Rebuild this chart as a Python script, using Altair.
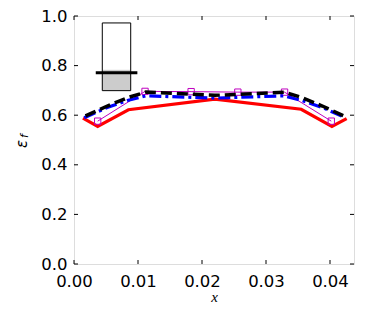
import altair as alt
import pandas as pd

# ---- data ----
red_x = [0.0014, 0.0037, 0.0085, 0.0220, 0.0355, 0.0403, 0.0426]
red_y = [0.588, 0.555, 0.622, 0.665, 0.624, 0.555, 0.586]

blue_x = [0.0016, 0.0052, 0.0085, 0.0112, 0.0220, 0.0328, 0.0355, 0.0388, 0.0424]
blue_y = [0.590, 0.631, 0.660, 0.678, 0.669, 0.678, 0.660, 0.631, 0.590]

black_x = [0.0018, 0.0052, 0.0085, 0.0112, 0.0220, 0.0328, 0.0355, 0.0388, 0.0422]
black_y = [0.597, 0.637, 0.672, 0.693, 0.680, 0.693, 0.672, 0.637, 0.597]

mag_x = [0.0037, 0.0111, 0.0183, 0.0256, 0.0329, 0.0402]
mag_y = [0.576, 0.696, 0.695, 0.693, 0.693, 0.576]

# inset schematic (data coordinates)
box_x = [0.00442, 0.00886]
box_y = [0.699, 0.972]
fill_y = [0.699, 0.783]
bar_x = [0.0034, 0.0099]
bar_y = [0.771]

x_ticks = [0.0, 0.01, 0.02, 0.03, 0.04]
y_ticks = [0.0, 0.2, 0.4, 0.6, 0.8, 1.0]

W, H = 280, 248
XDOM = [0, 0.04375]

xs = alt.Scale(domain=XDOM, nice=False, zero=False)
ys = alt.Scale(domain=[0, 1], nice=False)

xaxis = alt.Axis(values=x_ticks, format=".2f", ticks=False, grid=False, domain=False,
                 labelFlush=False, labelOverlap=False,
                 labelFontSize=16.5, labelFont="DejaVu Sans", labelColor="black",
                 labelPadding=9, title="x", titleFont="Liberation Serif",
                 titleFontStyle="italic", titleFontWeight="normal", titleFontSize=15,
                 titleColor="black", titlePadding=0)
yaxis = alt.Axis(values=y_ticks, format=".1f", ticks=False, grid=False, domain=False,
                 labelFlush=False, labelOverlap=False,
                 labelFontSize=16.5, labelFont="DejaVu Sans", labelColor="black",
                 labelPadding=7, title=None)


def line(xv, yv, color, width, dash=None):
    df = pd.DataFrame({"x": xv, "y": yv})
    kw = dict(color=color, strokeWidth=width, clip=False)
    if dash:
        kw["strokeDash"] = dash
    return alt.Chart(df).mark_line(**kw).encode(
        x=alt.X("x:Q", scale=xs, axis=xaxis),
        y=alt.Y("y:Q", scale=ys, axis=yaxis),
    )


red = line(red_x, red_y, "#ff0000", 3.2)
mag_df = pd.DataFrame({"x": mag_x, "y": mag_y})
mag = alt.Chart(mag_df).mark_line(color="#bf00bf", strokeWidth=1).encode(
    x=alt.X("x:Q", scale=xs), y=alt.Y("y:Q", scale=ys))
mag_pts = alt.Chart(mag_df).mark_point(shape="square", filled=False, color="#bf00bf",
                                       size=40, strokeWidth=1, opacity=1).encode(
    x=alt.X("x:Q", scale=xs), y=alt.Y("y:Q", scale=ys))
blue = line(blue_x, blue_y, "#0000ff", 3.2, [12, 4, 3, 4])
black = line(black_x, black_y, "#000000", 3.5, [11, 5])

fill_df = pd.DataFrame({"x": [box_x[0]], "x2": [box_x[1]], "y": [fill_y[0]], "y2": [fill_y[1]]})
fill = alt.Chart(fill_df).mark_rect(color="#cccccc").encode(
    x=alt.X("x:Q", scale=xs), x2="x2", y=alt.Y("y:Q", scale=ys), y2="y2")
box_df = pd.DataFrame({"x": [box_x[0]], "x2": [box_x[1]], "y": [box_y[0]], "y2": [box_y[1]]})
box = alt.Chart(box_df).mark_rect(fill=None, stroke="black", strokeWidth=1, fillOpacity=0).encode(
    x=alt.X("x:Q", scale=xs), x2="x2", y=alt.Y("y:Q", scale=ys), y2="y2")
bar_df = pd.DataFrame({"x": [bar_x[0]], "x2": [bar_x[1]], "y": bar_y})
bar = alt.Chart(bar_df).mark_rule(color="black", strokeWidth=3).encode(
    x=alt.X("x:Q", scale=xs), x2="x2", y=alt.Y("y:Q", scale=ys))

# inward ticks on all four sides
xt = pd.DataFrame({"t": x_ticks})
yt = pd.DataFrame({"t": y_ticks})
TL = 4
tb = alt.Chart(xt).mark_rule(color="black", strokeWidth=1).encode(
    x=alt.X("t:Q", scale=xs), y=alt.value(H - TL), y2=alt.value(H))
tt = alt.Chart(xt).mark_rule(color="black", strokeWidth=1).encode(
    x=alt.X("t:Q", scale=xs), y=alt.value(0), y2=alt.value(TL))
tl = alt.Chart(yt).mark_rule(color="black", strokeWidth=1).encode(
    y=alt.Y("t:Q", scale=ys), x=alt.value(0), x2=alt.value(TL))
tr = alt.Chart(yt).mark_rule(color="black", strokeWidth=1).encode(
    y=alt.Y("t:Q", scale=ys), x=alt.value(W - TL), x2=alt.value(W))

# y-axis title: epsilon with subscript f
lab_df = pd.DataFrame({"s": ["ε"]})
eps = alt.Chart(lab_df).mark_text(angle=270, fontSize=15, font="DejaVu Sans", fontStyle="italic",
                                  color="black", align="center", baseline="middle").encode(
    text="s:N", x=alt.value(-52), y=alt.value(128))
sub_df = pd.DataFrame({"s": ["f"]})
sub = alt.Chart(sub_df).mark_text(angle=270, fontSize=11, font="DejaVu Sans", fontStyle="italic",
                                  color="black", align="center", baseline="middle").encode(
    text="s:N", x=alt.value(-49), y=alt.value(120))

chart = alt.layer(red, mag, mag_pts, blue, black, fill, box, bar, tb, tt, tl, tr, eps, sub).properties(
    width=W, height=H,
    autosize=alt.AutoSizeParams(type="none"),
    padding={"left": 66, "top": 8, "right": 11, "bottom": 47},
).configure_view(stroke="black", strokeWidth=1.2).configure(background="white")

chart.save("out.html", embed_options={"renderer": "svg", "actions": False})
